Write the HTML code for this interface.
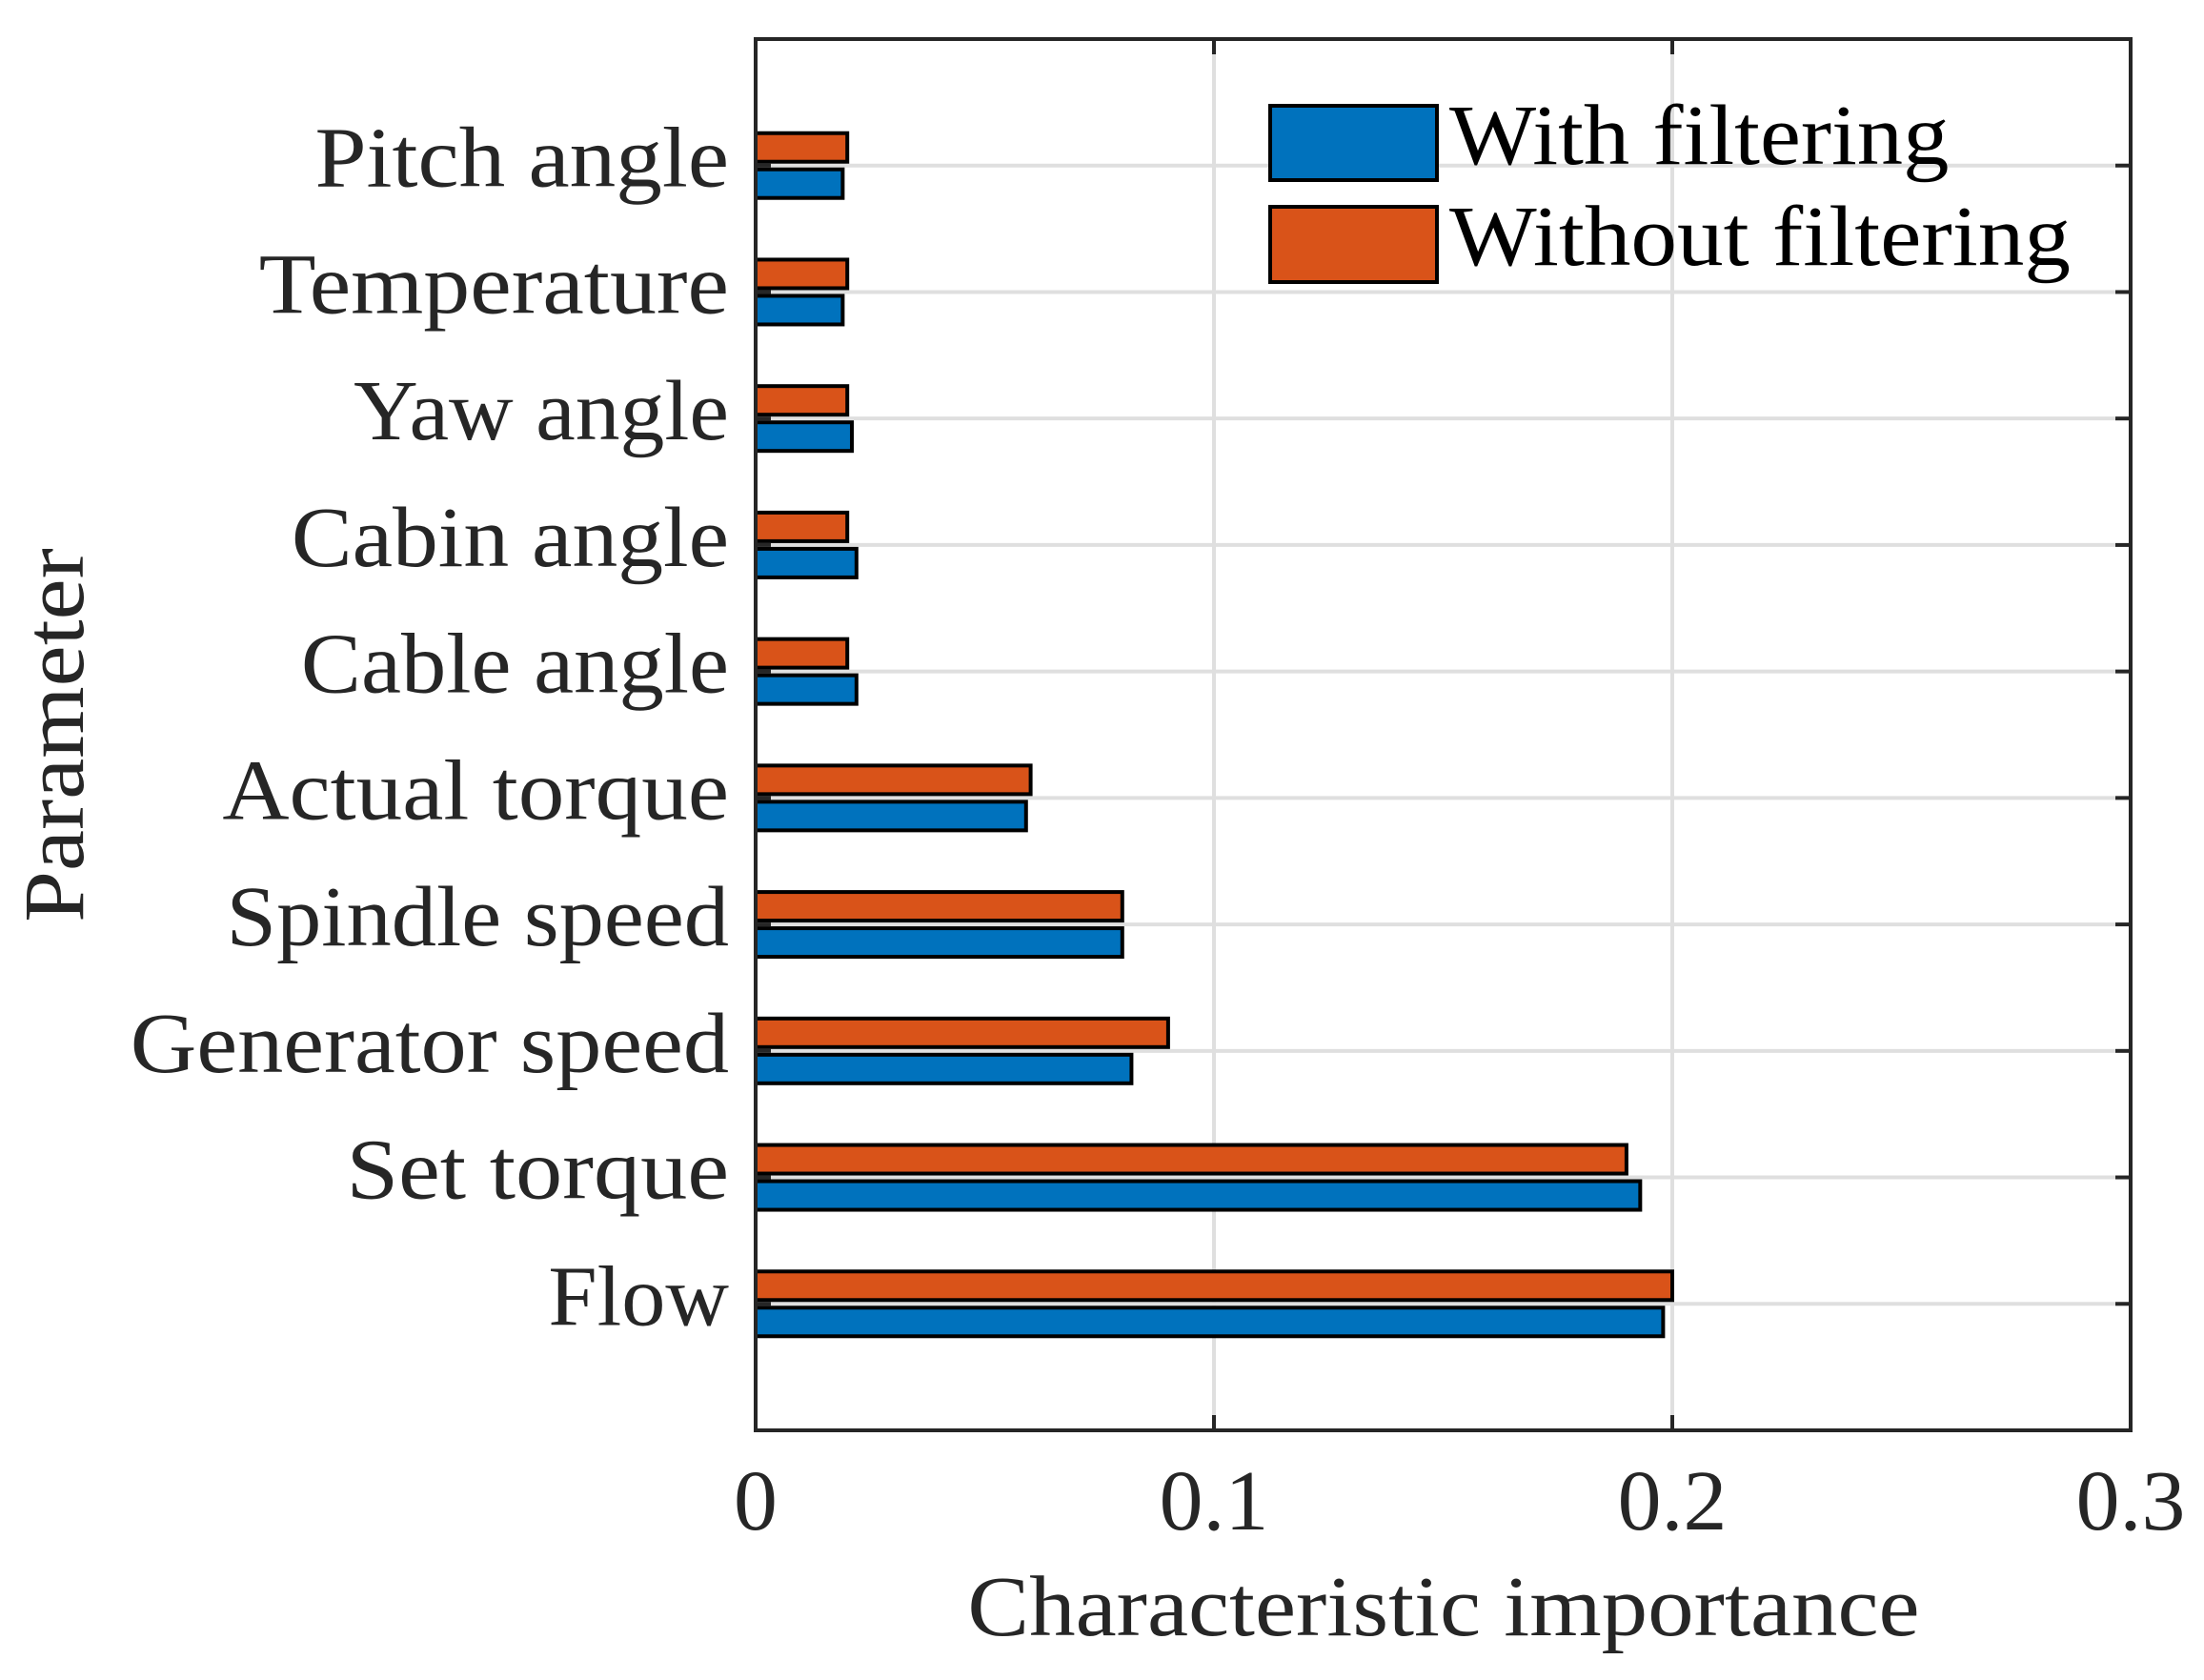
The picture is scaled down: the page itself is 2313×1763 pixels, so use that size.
<!DOCTYPE html>
<html lang="en">
<head>
<meta charset="utf-8">
<title>Characteristic importance</title>
<style>
  html, body { margin: 0; padding: 0; background: #fff; width: 2313px; height: 1763px; overflow: hidden; }
  svg { display: block; }
  text { font-family: "Liberation Serif", "DejaVu Serif", serif; font-size: 90px; fill: #262626; }
</style>
</head>
<body>
<svg id="chart" xmlns="http://www.w3.org/2000/svg" width="2313" height="1763" viewBox="0 0 2313 1763">
  <g id="grid"></g>
  <g id="ticks"></g>
  <g id="bars"></g>
  <rect x="793" y="41" width="1443" height="1460" fill="none" stroke="#262626" stroke-width="4"></rect>
  <g id="y-labels"></g>
  <g id="x-labels"></g>
  <text text-anchor="middle" transform="translate(1515 1716) scale(1.078 1)">Characteristic importance</text>
  <text text-anchor="middle" transform="translate(87 771.5) rotate(-90) scale(1.077 1)">Parameter</text>
  <g>
    <g>
      <rect x="1333" y="111" width="175" height="78" fill="#0072BD" stroke="#000" stroke-width="4"></rect>
      <text style="fill:#000" transform="translate(1521 172) scale(1.073 1)">With filtering</text>
    </g>
    <g>
      <rect x="1333" y="217" width="175" height="79" fill="#D95319" stroke="#000" stroke-width="4"></rect>
      <text style="fill:#000" transform="translate(1521 278) scale(1.08 1)">Without filtering</text>
    </g>
  </g>
</svg>
<script>
const categories = ["Flow", "Set torque", "Generator speed", "Spindle speed", "Actual torque", "Cable angle", "Cabin angle", "Yaw angle", "Temperature", "Pitch angle"];
const withFiltering = [0.198, 0.193, 0.082, 0.08, 0.059, 0.022, 0.022, 0.021, 0.019, 0.019];
const withoutFiltering = [0.2, 0.19, 0.09, 0.08, 0.06, 0.02, 0.02, 0.02, 0.02, 0.02];
const xTicks = [0, 0.1, 0.2, 0.3];
const xTickLabels = ["0", "0.1", "0.2", "0.3"];

const NS = "http://www.w3.org/2000/svg";
const plot = { left: 793, right: 2236, top: 41, bottom: 1501 };
const xMax = 0.3, yMax = 11;
const GRID = "#dfdfdf", AXIS = "#262626";
const barThickness = 30, barOffset = 19, tickLen = 16;

/* horizontal glyph stretch per label, to approximate the reference typeface's metrics */
const labelStretch = {
  "Flow": 1.025, "Set torque": 1.093, "Generator speed": 1.07, "Spindle speed": 1.05,
  "Actual torque": 1.08, "Cable angle": 1.051, "Cabin angle": 1.062, "Yaw angle": 1.041,
  "Temperature": 1.088, "Pitch angle": 1.08
};

function xScale(v) { return plot.left + (v / xMax) * (plot.right - plot.left); }
function yScale(i) { return plot.bottom - ((i + 1) / yMax) * (plot.bottom - plot.top); }
function slug(s) { return String(s).toLowerCase().replace(/[^a-z0-9]+/g, "-"); }

function make(tag, attrs, parent) {
  const el = document.createElementNS(NS, tag);
  for (const k in attrs) el.setAttribute(k, attrs[k]);
  parent.appendChild(el);
  return el;
}

const gridG = document.getElementById("grid");
const ticksG = document.getElementById("ticks");
const barsG = document.getElementById("bars");
const yLabelsG = document.getElementById("y-labels");
const xLabelsG = document.getElementById("x-labels");

xTicks.forEach(function (t, i) {
  const x = xScale(t);
  const g = make("line", { x1: x, x2: x, y1: plot.top, y2: plot.bottom, stroke: GRID, "stroke-width": 4 }, gridG);
  
  

  const b = make("line", { x1: x, x2: x, y1: plot.bottom, y2: plot.bottom - tickLen, stroke: AXIS, "stroke-width": 4 }, ticksG);
  
  

  const a = make("line", { x1: x, x2: x, y1: plot.top, y2: plot.top + tickLen, stroke: AXIS, "stroke-width": 4 }, ticksG);
  
  

  const lab = make("text", { "text-anchor": "middle", transform: "translate(" + x + " 1605) scale(1.02 1)" }, xLabelsG);
  lab.textContent = xTickLabels[i];
  
  
});

categories.forEach(function (name, i) {
  const y = yScale(i);
  const s = slug(name);

  const g = make("line", { x1: plot.left, x2: plot.right, y1: y, y2: y, stroke: GRID, "stroke-width": 4 }, gridG);
  
  

  const l = make("line", { x1: plot.left, x2: plot.left + tickLen, y1: y, y2: y, stroke: AXIS, "stroke-width": 4 }, ticksG);
  
  

  const r = make("line", { x1: plot.right, x2: plot.right - tickLen, y1: y, y2: y, stroke: AXIS, "stroke-width": 4 }, ticksG);
  
  

  const blue = make("rect", {
    x: plot.left, y: y + barOffset - barThickness / 2,
    width: xScale(withFiltering[i]) - plot.left, height: barThickness,
    fill: "#0072BD", stroke: "#000", "stroke-width": 4
  }, barsG);
  
  

  const orange = make("rect", {
    x: plot.left, y: y - barOffset - barThickness / 2,
    width: xScale(withoutFiltering[i]) - plot.left, height: barThickness,
    fill: "#D95319", stroke: "#000", "stroke-width": 4
  }, barsG);
  
  

  const stretch = labelStretch[name] || 1.065;
  const lab = make("text", { "text-anchor": "end", transform: "translate(765 " + (y + 22) + ") scale(" + stretch + " 1)" }, yLabelsG);
  lab.textContent = name;
  
  
});
</script>
</body>
</html>
